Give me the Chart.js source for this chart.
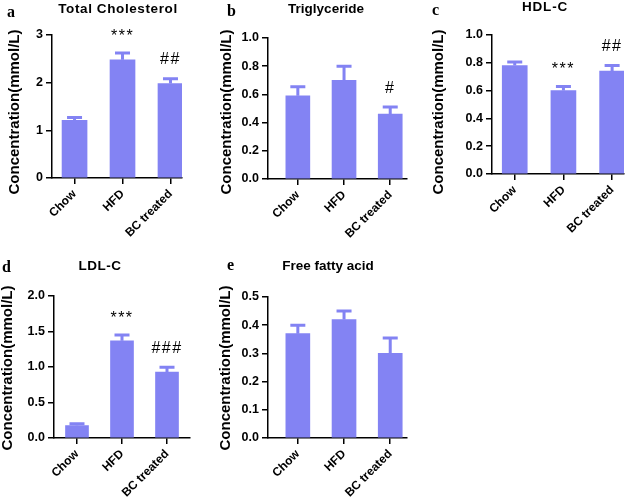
<!DOCTYPE html>
<html>
<head>
<meta charset="utf-8">
<script src="https://cdn.jsdelivr.net/npm/chart.js@4.4.0/dist/chart.umd.min.js"></script>
<style>
body { margin: 0; background: #fff; }
#wrap { position: relative; width: 638px; height: 500px; }
canvas { position: absolute; }
</style>
</head>
<body>
<div id="wrap">
  <canvas id="pa" width="210" height="250" style="left:0;top:0"></canvas>
  <canvas id="pb" width="210" height="250" style="left:210px;top:0"></canvas>
  <canvas id="pc" width="218" height="250" style="left:420px;top:0"></canvas>
  <canvas id="pd" width="210" height="250" style="left:0;top:250px"></canvas>
  <canvas id="pe" width="210" height="250" style="left:210px;top:250px"></canvas>
</div>
<script>
var groups = ["Chow", "HFD", "BC treated"];
var yLabel = "Concentration(mmol/L)";

// a - total cholesterol
var tcMean = [1.21, 2.48, 1.98];
var tcSem = [0.06, 0.14, 0.10];
var tcMarks = ["", "***", "##"];
var tcTicks = [0, 1, 2, 3];

// b - triglyceride
var tgMean = [0.59, 0.70, 0.46];
var tgSem = [0.065, 0.10, 0.05];
var tgMarks = ["", "", "#"];
var tgTicks = [0, 0.2, 0.4, 0.6, 0.8, 1.0];

// c - HDL-C
var hdlMean = [0.78, 0.60, 0.74];
var hdlSem = [0.025, 0.03, 0.04];
var hdlMarks = ["", "***", "##"];
var hdlTicks = [0, 0.2, 0.4, 0.6, 0.8, 1.0];

// d - LDL-C
var ldlMean = [0.175, 1.37, 0.93];
var ldlSem = [0.025, 0.08, 0.065];
var ldlMarks = ["", "***", "###"];
var ldlTicks = [0, 0.5, 1.0, 1.5, 2.0];

// e - free fatty acid
var ffaMean = [0.37, 0.42, 0.30];
var ffaSem = [0.03, 0.03, 0.055];
var ffaMarks = ["", "", ""];
var ffaTicks = [0, 0.1, 0.2, 0.3, 0.4, 0.5];

var barColor = "#8383f3";
var sansFont = "'Liberation Sans', Arial, sans-serif";

// panel layout (canvas pixels)
var panels = [
    { id: "pa", letter: "a", title: "Total Cholesterol", spacing: "0.6px",
      mean: tcMean, sem: tcSem, marks: tcMarks, ticks: tcTicks, dec: 0,
      area: { l: 52, r: 182, t: 35, b: 178 }, xMin: -0.47, xMax: 2.24, barW: 25,
      titleX: 118, titleY: 13, letterX: 7, letterY: 17, yTitleX: 15, yTitleY: 112 },
    { id: "pb", letter: "b", title: "Triglyceride", spacing: "0px",
      mean: tgMean, sem: tgSem, marks: tgMarks, ticks: tgTicks, dec: 1,
      area: { l: 58, r: 197, t: 38, b: 179 }, xMin: -0.646, xMax: 2.363, barW: 24,
      titleX: 116, titleY: 13, letterX: 17, letterY: 16, yTitleX: 17, yTitleY: 112 },
    { id: "pc", letter: "c", title: "HDL-C", spacing: "0.8px",
      mean: hdlMean, sem: hdlSem, marks: hdlMarks, ticks: hdlTicks, dec: 1,
      area: { l: 72, r: 204, t: 35, b: 174 }, xMin: -0.467, xMax: 2.244, barW: 25,
      titleX: 125, titleY: 11, letterX: 12, letterY: 15, yTitleX: 19, yTitleY: 112 },
    { id: "pd", letter: "d", title: "LDL-C", spacing: "0.5px",
      mean: ldlMean, sem: ldlSem, marks: ldlMarks, ticks: ldlTicks, dec: 1,
      area: { l: 54, r: 190, t: 46, b: 188 }, xMin: -0.511, xMax: 2.511, barW: 23,
      titleX: 100, titleY: 20, letterX: 2, letterY: 22, yTitleX: 8, yTitleY: 118 },
    { id: "pe", letter: "e", title: "Free fatty acid", spacing: "0px",
      mean: ffaMean, sem: ffaSem, marks: ffaMarks, ticks: ffaTicks, dec: 1,
      area: { l: 58, r: 197, t: 47, b: 188 }, xMin: -0.646, xMax: 2.363, barW: 24,
      titleX: 118, titleY: 20, letterX: 17, letterY: 20, yTitleX: 16, yTitleY: 118 }
];

// error bars, significance marks, panel letter/title/y label
function decor(p) {
    return {
        id: "decor_" + p.id,
        afterDatasetsDraw: function (chart) {
            var ctx = chart.ctx;
            var y = chart.scales.y;
            var meta = chart.getDatasetMeta(0);
            ctx.save();
            ctx.strokeStyle = barColor;
            ctx.lineWidth = 3;
            meta.data.forEach(function (bar, i) {
                var top = y.getPixelForValue(p.mean[i] + p.sem[i]);
                ctx.beginPath();
                ctx.moveTo(bar.x, bar.y);
                ctx.lineTo(bar.x, top);
                ctx.moveTo(bar.x - 7.5, top);
                ctx.lineTo(bar.x + 7.5, top);
                ctx.stroke();
                if (p.marks[i]) {
                    ctx.fillStyle = "#000";
                    ctx.font = "16px " + sansFont;
                    ctx.letterSpacing = "1.5px";
                    ctx.textAlign = "center";
                    ctx.textBaseline = "alphabetic";
                    var off = p.marks[i].indexOf("*") >= 0 ? 12 : 14.5;
                    ctx.fillText(p.marks[i], bar.x, top - off);
                }
            });
            ctx.restore();
        },
        afterDraw: function (chart) {
            var ctx = chart.ctx;
            ctx.save();
            ctx.fillStyle = "#000";
            ctx.textBaseline = "alphabetic";
            ctx.textAlign = "left";
            ctx.font = "bold 16px 'Liberation Serif', 'Times New Roman', serif";
            ctx.fillText(p.letter, p.letterX, p.letterY);
            ctx.font = "bold 13.5px " + sansFont;
            ctx.letterSpacing = p.spacing;
            ctx.textAlign = "center";
            ctx.fillText(p.title, p.titleX, p.titleY);
            ctx.letterSpacing = "0px";
            ctx.translate(p.yTitleX, p.yTitleY);
            ctx.rotate(-Math.PI / 2);
            ctx.font = "bold 15px " + sansFont;
            ctx.textBaseline = "middle";
            ctx.fillText(yLabel, 0, 0);
            ctx.restore();
        }
    };
}

panels.forEach(function (p) {
    var cv = document.getElementById(p.id);
    var W = cv.width, H = cv.height;
    new Chart(cv, {
        type: "bar",
        data: {
            datasets: [{
                data: p.mean.map(function (v, i) { return { x: i, y: v }; }),
                backgroundColor: barColor,
                barThickness: p.barW,
                borderWidth: 0
            }]
        },
        options: {
            responsive: false,
            animation: false,
            layout: { padding: { left: 0, top: p.area.t, right: W - p.area.r, bottom: 0 } },
            plugins: { legend: { display: false }, tooltip: { enabled: false } },
            scales: {
                x: {
                    type: "linear",
                    min: p.xMin,
                    max: p.xMax,
                    offset: false,
                    afterBuildTicks: function (s) {
                        s.ticks = groups.map(function (g, i) { return { value: i }; });
                    },
                    afterFit: function (s) { s.height = H - p.area.b; },
                    grid: { offset: false, drawOnChartArea: false, drawTicks: true, tickLength: 6, color: "#000", lineWidth: 1.5 },
                    border: { display: true, color: "#000", width: 1.5 },
                    ticks: {
                        autoSkip: false,
                        minRotation: 45,
                        maxRotation: 45,
                        padding: 3,
                        color: "#000",
                        font: { family: sansFont, size: 12, weight: "bold" },
                        callback: function (v) { return groups[Math.round(v)]; }
                    }
                },
                y: {
                    min: 0,
                    max: p.ticks[p.ticks.length - 1],
                    afterBuildTicks: function (s) {
                        s.ticks = p.ticks.map(function (v) { return { value: v }; });
                    },
                    afterFit: function (s) { s.width = p.area.l; },
                    grid: { drawOnChartArea: false, drawTicks: true, tickLength: 6, color: "#000", lineWidth: 1.5 },
                    border: { display: true, color: "#000", width: 1.5 },
                    ticks: {
                        padding: 3,
                        color: "#000",
                        font: { family: sansFont, size: 12.5, weight: "bold" },
                        callback: function (v) { return v.toFixed(p.dec); }
                    }
                }
            }
        },
        plugins: [decor(p)]
    });
});
</script>
</body>
</html>
